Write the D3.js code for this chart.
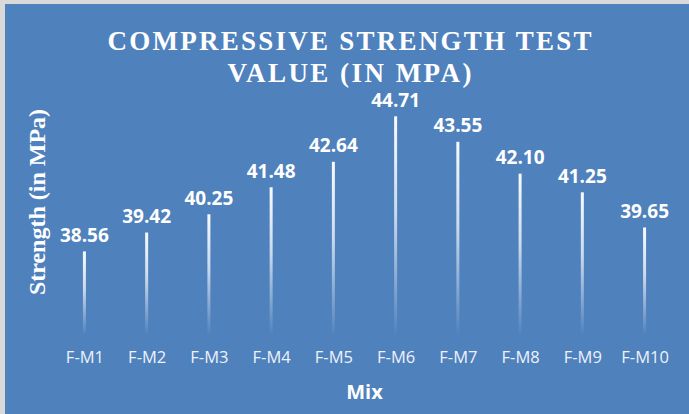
<!DOCTYPE html>
<html>
<head>
<meta charset="utf-8">
<script src="https://cdn.jsdelivr.net/npm/d3@7"></script>
<style>
  html, body { margin: 0; padding: 0; background: #d9d9d9; }
  svg { display: block; }
</style>
</head>
<body>
<div class="chart"></div>
<script>
var svgWidth = 689;
var svgHeight = 414;

// data
var mixes = ["F-M1", "F-M2", "F-M3", "F-M4", "F-M5", "F-M6", "F-M7", "F-M8", "F-M9", "F-M10"];
var strength = [38.56, 39.42, 40.25, 41.48, 42.64, 44.71, 43.55, 42.10, 41.25, 39.65];
var titleLines = ["COMPRESSIVE STRENGTH TEST", "VALUE (IN MPA)"];
var xTitle = "Mix";
var yTitle = "Strength (in MPa)";

// plot area
var plot = { left: 53.3, right: 675.7, top: 88, bottom: 334 };

var svg = d3.select(".chart")
  .append("svg")
  .attr("width", svgWidth)
  .attr("height", svgHeight);

// background with the light border on top/left
svg.append("rect")
  .attr("width", svgWidth).attr("height", svgHeight)
  .attr("fill", "#d9d9d9");
svg.append("rect")
  .attr("x", 5).attr("y", 4)
  .attr("width", svgWidth - 5).attr("height", svgHeight - 4)
  .attr("fill", "#4f81bd");

// gradient for the thin bars
var grad = svg.append("defs").append("linearGradient")
  .attr("id", "barGrad")
  .attr("x1", 0).attr("y1", 0).attr("x2", 0).attr("y2", 1);
grad.append("stop").attr("offset", "0%").attr("stop-color", "#ffffff").attr("stop-opacity", 0.97);
grad.append("stop").attr("offset", "45%").attr("stop-color", "#ffffff").attr("stop-opacity", 0.7);
grad.append("stop").attr("offset", "100%").attr("stop-color", "#ffffff").attr("stop-opacity", 0.02);

// scales
var xScale = d3.scalePoint()
  .domain(mixes)
  .range([plot.left, plot.right])
  .padding(0.5);

var yScale = d3.scaleLinear()
  .domain([34.8, 46])
  .range([plot.bottom, plot.top]);

var barWidth = 3;

// bars
svg.selectAll(".bar")
  .data(strength)
  .enter()
  .append("rect")
  .attr("class", "bar")
  .attr("x", (d, i) => xScale(mixes[i]) - barWidth / 2)
  .attr("y", d => yScale(d))
  .attr("width", barWidth)
  .attr("height", d => yScale.range()[0] - yScale(d))
  .attr("fill", "url(#barGrad)");

// value labels
svg.selectAll(".val")
  .data(strength)
  .enter()
  .append("text")
  .attr("class", "val")
  .attr("x", (d, i) => xScale(mixes[i]))
  .attr("y", d => yScale(d) - 9.5)
  .attr("text-anchor", "middle")
  .attr("font-family", "'Open Sans', sans-serif")
  .attr("font-weight", "bold")
  .attr("font-size", 19)
  .attr("fill", "#ffffff")
  .text(d => d.toFixed(2));

// x axis (labels only)
var xAxis = d3.axisBottom(xScale).tickSize(0).tickPadding(0);
var xg = svg.append("g")
  .attr("transform", "translate(0, 351)")
  .call(xAxis);
xg.select(".domain").remove();
xg.selectAll("text")
  .attr("dy", null)
  .attr("y", 12)
  .attr("font-family", "'Open Sans', sans-serif")
  .attr("font-size", 16.5)
  .attr("fill", "#eef2f8");

// axis titles
svg.append("text")
  .attr("x", (plot.left + plot.right) / 2)
  .attr("y", 399)
  .attr("text-anchor", "middle")
  .attr("font-family", "'Open Sans', sans-serif")
  .attr("font-weight", "bold")
  .attr("font-size", 20)
  .attr("fill", "#ffffff")
  .text(xTitle);

svg.append("text")
  .attr("transform", "translate(45, 202) rotate(-90)")
  .attr("text-anchor", "middle")
  .attr("font-family", "'Liberation Serif', 'Times New Roman', serif")
  .attr("font-weight", "bold")
  .attr("font-size", 24)
  .attr("fill", "#ffffff")
  .text(yTitle);

// chart title
var titleWidths = [484, 244];
svg.selectAll(".title")
  .data(titleLines)
  .enter()
  .append("text")
  .attr("class", "title")
  .attr("x", 349.5)
  .attr("y", (d, i) => 49.5 + i * 32.4)
  .attr("text-anchor", "middle")
  .attr("font-family", "'Liberation Serif', 'Times New Roman', serif")
  .attr("font-weight", "bold")
  .attr("font-size", 27)
  .attr("fill", "#ffffff")
  .attr("textLength", (d, i) => titleWidths[i])
  .attr("lengthAdjust", "spacing")
  .text(d => d);
</script>
</body>
</html>
